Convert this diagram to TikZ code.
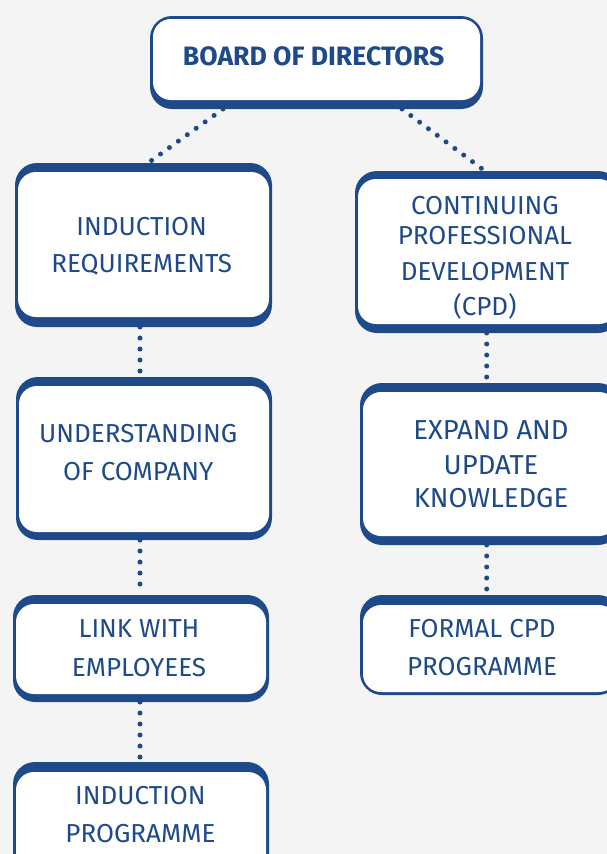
\documentclass[tikz,border=0pt]{standalone}
\usepackage{fontspec}
\setmainfont{Fira Sans}
\usetikzlibrary{calc,fit}
\definecolor{navy}{RGB}{31,74,138}
\definecolor{bg}{RGB}{244,244,244}
\tikzset{
  outerbox/.style={fill=navy, rounded corners=22pt, inner sep=0pt, outer sep=0pt},
  innerfill/.style={fill=white, rounded corners=18pt},
  lbl/.style={text=navy, font=\fontsize{26}{30}\selectfont, anchor=base, inner sep=0pt},
  biglbl/.style={lbl, font=\fontsize{27.4}{30}\selectfont},
  dots/.style={draw=navy, line width=5pt, line cap=round, dash pattern=on 0pt off 11pt},
}
% name, x1, y1, x2, y2, left, right, top, bottom
\newcommand\mkbox[9]{%
  \node[outerbox, fit={(#2,#3)(#4,#5)}] (#1) {};
  \fill[innerfill] ($(#1.north west)+(#6,#8)$) rectangle ($(#1.south east)+(-#7,-#9)$);
}
\begin{document}
\begin{tikzpicture}[x=1pt,y=-1pt]
\fill[bg] (0,0) rectangle (607,854);
\useasboundingbox (0,0) rectangle (607,854);

\mkbox{board}{150}{16}{483}{109}{3}{3}{3}{9}
\mkbox{ir}{15}{163}{272}{327}{3}{3}{9}{10}
\mkbox{cpd}{355}{171}{620}{333}{3}{3}{8}{9}
\mkbox{uc}{16}{377}{272}{540}{3}{3}{9}{8}
\mkbox{eu}{360}{383}{620}{545}{3}{3}{9}{9}
\mkbox{le}{13}{595}{269}{702}{3}{3}{9}{8}
\mkbox{ip}{13}{762}{269}{880}{3}{3}{10}{3}
\mkbox{fc}{360}{595}{620}{695}{3}{3}{10}{3}

% connectors
\draw[dots] ($(board.south)+(-93.5,0)$) -- ($(ir.north)+(4.5,0)$);
\draw[dots] ($(board.south)+(85.5,0)$) -- ($(cpd.north)+(-2.5,0)$);
\draw[dots] ($(ir.south)+(-3.5,0)$) -- ($(uc.north)+(-4,0)$);
\draw[dots] ($(uc.south)+(-4,0)$) -- ($(le.north)+(-1,0)$);
\draw[dots] ($(le.south)+(-1,0)$) -- ($(ip.north)+(-1,0)$);
\draw[dots] ($(cpd.south)+(-0.8,0)$) -- ($(eu.north)+(-3.3,0)$);
\draw[dots] ($(eu.south)+(-3.3,0)$) -- ($(fc.north)+(-3.3,0)$);

% labels
\node[lbl, font=\fontsize{26.6}{30}\selectfont] (t-board) at (313.6,65.7) {\bfseries BOARD OF DIRECTORS};
\node[lbl] (t-ir1) at (141.7,235) {INDUCTION};
\node[lbl] (t-ir2) at (141.7,272) {REQUIREMENTS};
\node[lbl] (t-cpd1) at (485,214) {CONTINUING};
\node[lbl] (t-cpd2) at (485,244) {PROFESSIONAL};
\node[lbl] (t-cpd3) at (485,280) {DEVELOPMENT};
\node[lbl] (t-cpd4) at (485,315) {(CPD)};
\node[lbl] (t-uc1) at (138.3,442.3) {UNDERSTANDING};
\node[lbl] (t-uc2) at (138.3,480) {OF COMPANY};
\node[biglbl] (t-eu1) at (491,439.5) {EXPAND AND};
\node[biglbl] (t-eu2) at (491,474.5) {UPDATE};
\node[biglbl] (t-eu3) at (491,507.8) {KNOWLEDGE};
\node[lbl] (t-le1) at (139,637) {LINK WITH};
\node[lbl] (t-le2) at (139,676) {EMPLOYEES};
\node[lbl] (t-ip1) at (140.4,804) {INDUCTION};
\node[lbl] (t-ip2) at (140.4,842) {PROGRAMME};
\node[lbl] (t-fc1) at (482,637.3) {FORMAL CPD};
\node[lbl] (t-fc2) at (482,675.7) {PROGRAMME};
\end{tikzpicture}
\end{document}
